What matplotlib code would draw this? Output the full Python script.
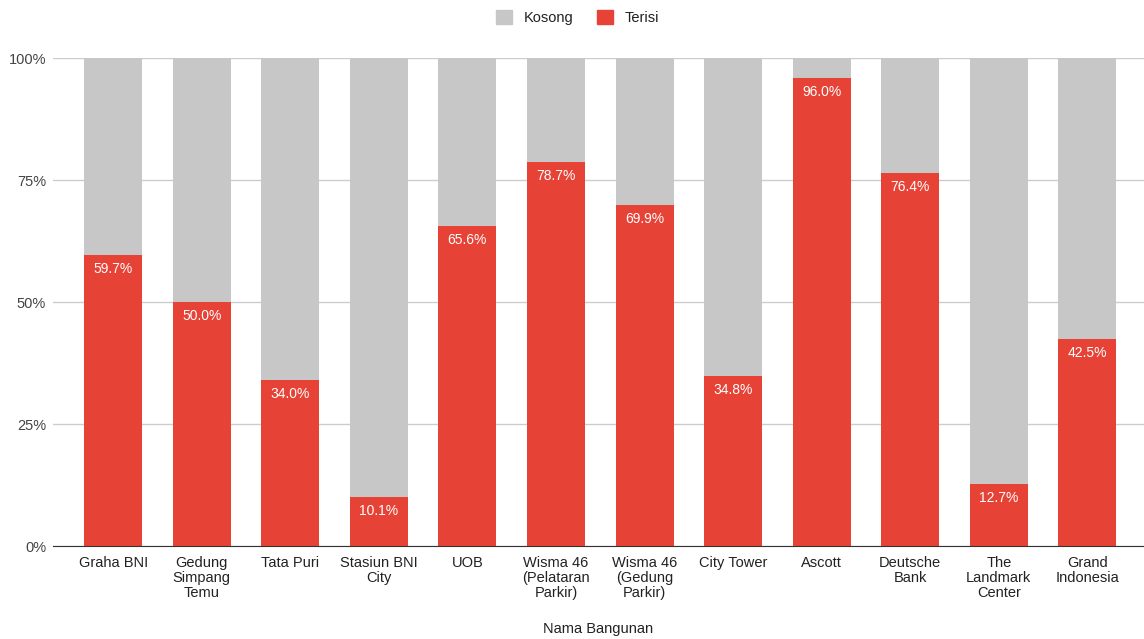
import matplotlib.pyplot as plt
from matplotlib.patches import Patch

plt.rcParams['font.family'] = ['Liberation Sans', 'DejaVu Sans']

gedung = ["Graha BNI", "Gedung\nSimpang\nTemu", "Tata Puri", "Stasiun BNI\nCity", "UOB",
          "Wisma 46\n(Pelataran\nParkir)", "Wisma 46\n(Gedung\nParkir)", "City Tower", "Ascott",
          "Deutsche\nBank", "The\nLandmark\nCenter", "Grand\nIndonesia"]
terisi = [59.7, 50.0, 34.0, 10.1, 65.6, 78.7, 69.9, 34.8, 96.0, 76.4, 12.7, 42.5]
kosong = [100 - t for t in terisi]

merah = "#e64235"
abu = "#c7c7c7"

fig = plt.figure(figsize=(11.44, 6.39), dpi=100)
ax = fig.add_axes([0.0463, 0.1455, 0.9537, 0.7637])

x = list(range(len(gedung)))
ax.bar(x, terisi, width=0.655, color=merah, zorder=2)
ax.bar(x, kosong, width=0.655, bottom=terisi, color=abu, zorder=2)

for i, t in enumerate(terisi):
    ax.text(i, t - 2.9, f"{t:.1f}%", ha="center", va="center", color="white",
            fontsize=10, zorder=3)

ax.set_xlim(-0.68, 11.64)
ax.set_ylim(0, 100)
ax.set_yticks([0, 25, 50, 75, 100])
ax.set_yticklabels(["0%", "25%", "50%", "75%", "100%"])
ax.set_xticks(x)
ax.set_xticklabels(gedung, fontsize=10.5, color="#222222", linespacing=1.1)
ax.tick_params(axis="y", length=0, labelsize=10.5, labelcolor="#444444", pad=5)
ax.tick_params(axis="x", length=0, pad=7)
ax.grid(axis="y", color="#cccccc", linewidth=1, zorder=0)
for s in ["top", "right", "left"]:
    ax.spines[s].set_visible(False)
ax.spines["bottom"].set_color("#333333")
ax.spines["bottom"].set_zorder(3)

ax.set_xlabel("Nama Bangunan", fontsize=10.5, color="#222222", labelpad=16)

handles = [Patch(color=abu, label="Kosong"), Patch(color=merah, label="Terisi")]
fig.legend(handles=handles, loc="upper center", bbox_to_anchor=(0.505, 1.005), ncol=2, frameon=False,
           fontsize=10.5, handlelength=1.1, handleheight=1.1, columnspacing=1.6, labelcolor="#222222")

fig.savefig("out.png", dpi=100)
